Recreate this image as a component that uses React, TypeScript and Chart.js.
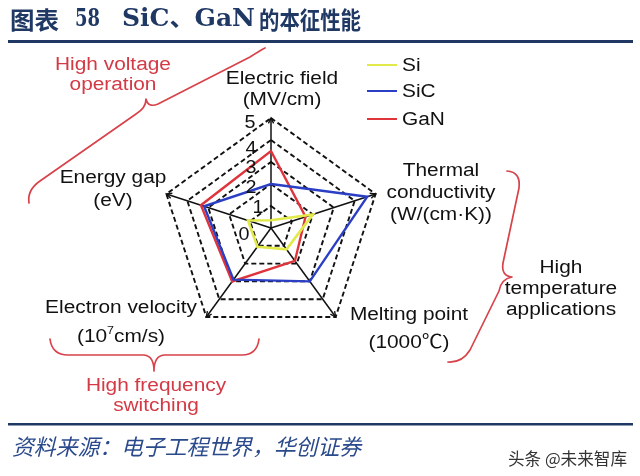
import React, { useEffect, useRef } from "react";
import { Chart, registerables } from "chart.js";

Chart.register(...registerables);

// ---------- data ----------
const CATEGORIES = ["Electric field", "Thermal conductivity", "Melting point", "Electron velocity", "Energy gap"];
const SERIES_NAMES = ["Si", "SiC", "GaN"];
const SI_VALUES = [0.35, 2.0, 1.2, 1.05, 1.1];
const SIC_VALUES = [2.0, 4.6, 3.0, 2.9, 3.2];
const GAN_VALUES = [3.5, 1.65, 1.85, 3.0, 3.35];
const TICK_VALUES = [0, 1, 2, 3, 4, 5];
const AXIS_TITLES = [
  ["Electric field", "(MV/cm)"],
  ["Thermal", "conductivity", "(W/(cm·K))"],
  ["Melting point", "(1000℃)"],
  ["Electron velocity", "(10^7cm/s)"],
  ["Energy gap", "(eV)"],
];
const ANNOTATIONS = [
  ["High voltage", "operation"],
  ["High frequency", "switching"],
  ["High", "temperature", "applications"],
];
const TITLE_PARTS = ["图表", "58", "SiC、GaN", "的本征性能"];
const SOURCE_TEXT = "资料来源：电子工程世界，华创证券";
const WATERMARK = "头条 @未来智库";

// ---------- styles / layout ----------
const COLORS = ["#e2ea4a", "#2a3fc4", "#e0343c"];
const SANS = '"Liberation Sans", Arial, "Noto Sans CJK SC", sans-serif';
const CJK = '"Noto Sans CJK SC", sans-serif';
const SERIF = '"DejaVu Serif", "Noto Sans CJK SC", serif';
const NAVY = "#1f3864";
const RED = "#d33a45";
const TXT_SIZE = 18.8;
const TXT_SX = 1.11;

const AXIS_TITLE_POS = [
  { x: 282, y: 79, lh: 21 },
  { x: 441, y: 171, lh: 22 },
  { x: 409, y: 315, lh: 28 },
  { x: 121, y: 308, lh: 29 },
  { x: 113, y: 178, lh: 23 },
];
const ANNOTATION_POS = [
  { x: 113, y: 65, lh: 20, color: RED },
  { x: 156, y: 386, lh: 20, color: RED },
  { x: 561, y: 268, lh: 21, color: "#111" },
];
const TICK_DX = [-27, -13, -20, -20, -20, -21];
const TICK_DY = [7, 2, 4, 6, 9, 5];
const LEGEND_POS = { x0: 367, x1: 397, tx: 402, ys: [65, 91, 119] };
const TITLE_POS = [
  { x: 10, w: 49, font: `700 24px ${CJK}` },
  { x: 75, w: 25, font: `bold 24px ${SERIF}` },
  { x: 122, w: 133, font: `bold 24px ${SERIF}` },
  { x: 259, w: 102, font: `700 24px ${CJK}` },
];
const BRACES: (string | number)[][][] = [
  [["M", 29, 203], ["Q", 27, 190, 40, 181], ["L", 136, 114], ["Q", 146, 108, 146, 99], ["Q", 148, 108, 158, 104], ["L", 250, 57], ["Q", 261, 50, 265, 48]],
  [["M", 50, 339], ["Q", 52, 355, 68, 355], ["L", 144, 355], ["Q", 154, 356, 154, 371], ["Q", 154, 356, 164, 355], ["L", 242, 355], ["Q", 257, 355, 259, 339]],
  [["M", 507, 171], ["Q", 521, 172, 519, 188], ["L", 503, 263], ["Q", 501, 276, 512, 277], ["Q", 501, 279, 499, 291], ["L", 470, 350], ["Q", 462, 363, 448, 362]],
];

function drawText(ctx: CanvasRenderingContext2D, text: string, x: number, y: number, o: any = {}) {
  const size = o.size ?? TXT_SIZE;
  const sx = o.sx ?? TXT_SX;
  ctx.save();
  ctx.font = `${o.style || "normal"} ${o.weight || "normal"} ${size}px ${o.family || SANS}`;
  ctx.fillStyle = o.color || "#111";
  ctx.textBaseline = "middle";
  ctx.textAlign = o.align || "center";
  ctx.translate(x, y);
  ctx.scale(sx, 1);
  ctx.fillText(text, 0, 0);
  ctx.restore();
}

function drawSup(ctx: CanvasRenderingContext2D, text: string, cx: number, y: number) {
  const m = text.match(/^(.*)\^(\d)(.*)$/);
  if (!m) return drawText(ctx, text, cx, y);
  ctx.save();
  ctx.font = `${TXT_SIZE}px ${SANS}`;
  const w1 = ctx.measureText(m[1]).width * TXT_SX;
  const w3 = ctx.measureText(m[3]).width * TXT_SX;
  ctx.font = `${TXT_SIZE * 0.6}px ${SANS}`;
  const w2 = ctx.measureText(m[2]).width * TXT_SX;
  ctx.restore();
  const x0 = cx - (w1 + w2 + w3) / 2;
  drawText(ctx, m[1], x0, y, { align: "left" });
  drawText(ctx, m[2], x0 + w1, y - 6, { align: "left", size: TXT_SIZE * 0.6 });
  drawText(ctx, m[3], x0 + w1 + w2, y, { align: "left" });
}

function drawFit(ctx: CanvasRenderingContext2D, text: string, x0: number, width: number, y: number, font: string, color: string) {
  ctx.save();
  ctx.font = font;
  ctx.fillStyle = color;
  ctx.textBaseline = "middle";
  ctx.textAlign = "left";
  const w = ctx.measureText(text).width;
  ctx.translate(x0, y);
  ctx.scale(width / w, 1);
  ctx.fillText(text, 0, 0);
  ctx.restore();
}

const decorPlugin = {
  id: "decor",
  afterDraw(chart: any) {
    const ctx: CanvasRenderingContext2D = chart.ctx;
    const scale = chart.scales.r;
    const cx = scale.xCenter;
    const cy = scale.yCenter;

    // axis arrowheads at outer ends
    ctx.save();
    ctx.strokeStyle = "#111";
    ctx.lineWidth = 1.4;
    for (let i = 0; i < CATEGORIES.length; i++) {
      const p = scale.getPointPositionForValue(i, TICK_VALUES[TICK_VALUES.length - 1]);
      const a = Math.atan2(p.y - cy, p.x - cx);
      const s = 6;
      ctx.beginPath();
      ctx.moveTo(p.x - s * Math.cos(a - 0.45), p.y - s * Math.sin(a - 0.45));
      ctx.lineTo(p.x, p.y);
      ctx.lineTo(p.x - s * Math.cos(a + 0.45), p.y - s * Math.sin(a + 0.45));
      ctx.stroke();
    }
    ctx.restore();

    // tick labels
    TICK_VALUES.forEach((v, i) => {
      const d = scale.getDistanceFromCenterForValue(v);
      drawText(ctx, String(v), cx + TICK_DX[i], cy - d + TICK_DY[i], { sx: 1.05 });
    });

    // axis titles
    AXIS_TITLES.forEach((lines, i) => {
      const p = AXIS_TITLE_POS[i];
      lines.forEach((t, j) => {
        if (t.includes("^")) drawSup(ctx, t, p.x, p.y + j * p.lh);
        else drawText(ctx, t, p.x, p.y + j * p.lh);
      });
    });

    // annotations
    ANNOTATIONS.forEach((lines, i) => {
      const p = ANNOTATION_POS[i];
      lines.forEach((t, j) => drawText(ctx, t, p.x, p.y + j * p.lh, { color: p.color }));
    });

    // braces
    ctx.save();
    ctx.strokeStyle = "#d8424a";
    ctx.lineWidth = 1.7;
    ctx.lineCap = "round";
    ctx.lineJoin = "round";
    BRACES.forEach((cmds) => {
      ctx.beginPath();
      cmds.forEach((c: any[]) => {
        if (c[0] === "M") ctx.moveTo(c[1], c[2]);
        else if (c[0] === "L") ctx.lineTo(c[1], c[2]);
        else ctx.quadraticCurveTo(c[1], c[2], c[3], c[4]);
      });
      ctx.stroke();
    });
    ctx.restore();

    // legend
    SERIES_NAMES.forEach((name, i) => {
      const y = LEGEND_POS.ys[i];
      ctx.save();
      ctx.strokeStyle = COLORS[i];
      ctx.lineWidth = 2;
      ctx.beginPath();
      ctx.moveTo(LEGEND_POS.x0, y);
      ctx.lineTo(LEGEND_POS.x1, y);
      ctx.stroke();
      ctx.restore();
      drawText(ctx, name, LEGEND_POS.tx, y + 1, { align: "left" });
    });

    // title + rules
    TITLE_PARTS.forEach((t, i) => {
      const p = TITLE_POS[i];
      drawFit(ctx, t, p.x, p.w, 20, p.font, NAVY);
    });
    ctx.save();
    ctx.fillStyle = NAVY;
    ctx.fillRect(8, 40, 625, 3);
    ctx.fillRect(8, 423, 625, 2.5);
    ctx.restore();

    // source + watermark
    drawFit(ctx, SOURCE_TEXT, 12, 349, 447, `italic 22px ${CJK}`, "#2a4a8c");
    drawFit(ctx, WATERMARK, 508, 119, 459, `17px ${CJK}`, "#333");
  },
};

export default function App() {
  const ref = useRef<HTMLCanvasElement | null>(null);
  useEffect(() => {
    if (!ref.current) return;
    const chart = new Chart(ref.current, {
      type: "radar",
      data: {
        labels: CATEGORIES,
        datasets: [
          { label: SERIES_NAMES[0], data: SI_VALUES, borderColor: COLORS[0], backgroundColor: "transparent", fill: false, borderWidth: 2.6 },
          { label: SERIES_NAMES[1], data: SIC_VALUES, borderColor: COLORS[1], backgroundColor: "transparent", fill: false, borderWidth: 2.4 },
          { label: SERIES_NAMES[2], data: GAN_VALUES, borderColor: COLORS[2], backgroundColor: "transparent", fill: false, borderWidth: 2.4 },
        ],
      },
      options: {
        responsive: false,
        animation: false,
        layout: { padding: { left: 161, top: 118, right: 259, bottom: 138 } },
        plugins: { legend: { display: false }, tooltip: { enabled: false }, title: { display: false } },
        elements: { line: { tension: 0 }, point: { radius: 0, hoverRadius: 0 } },
        scales: {
          r: {
            min: 0,
            max: 5,
            ticks: { display: false, stepSize: 1 },
            pointLabels: { display: false },
            grid: { color: "#111", lineWidth: 1.9, circular: false },
            border: { dash: [5, 3] },
            angleLines: { color: "#111", lineWidth: 1.5 },
          },
        },
      },
      plugins: [decorPlugin],
    } as any);
    return () => chart.destroy();
  }, []);
  return (
    <div style={{ position: "fixed", left: 0, top: 0, width: 640, height: 476, background: "#fff" }}>
      <canvas ref={ref} width={640} height={476} style={{ display: "block", width: 640, height: 476 }} />
    </div>
  );
}
